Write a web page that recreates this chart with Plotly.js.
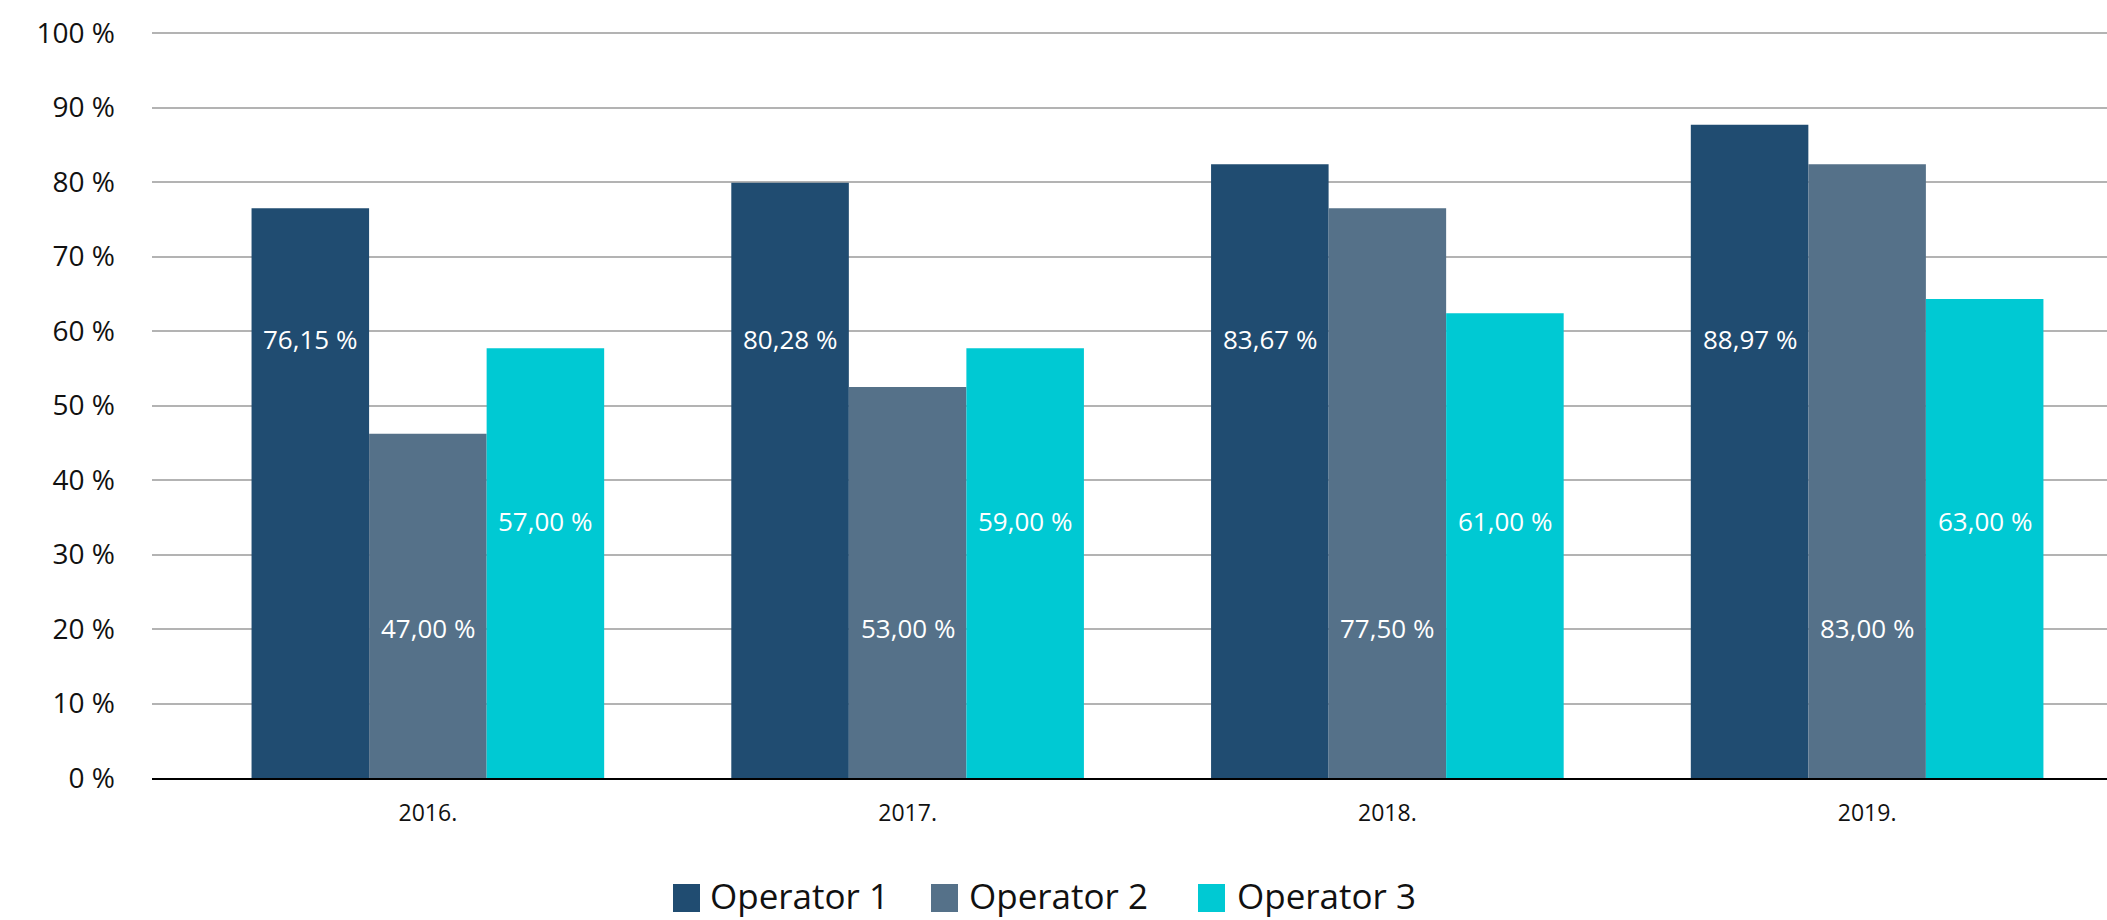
<!DOCTYPE html>
<html>
<head>
<meta charset="utf-8">
<script src="https://cdn.plot.ly/plotly-3.0.1.min.js"></script>
<style>html,body{margin:0;padding:0;background:#fff;}#chart{width:2107px;height:920px;}</style>
</head>
<body>
<div id="chart"></div>
<script>
// ---- data ----
const years = ['2016.', '2017.', '2018.', '2019.'];
const seriesNames = ['Operator 1', 'Operator 2', 'Operator 3'];
const op1Values = [76.5, 79.9, 82.4, 87.7];
const op2Values = [46.2, 52.5, 76.5, 82.4];
const op3Values = [57.7, 57.7, 62.4, 64.3];
const op1Labels = ['76,15 %', '80,28 %', '83,67 %', '88,97 %'];
const op2Labels = ['47,00 %', '53,00 %', '77,50 %', '83,00 %'];
const op3Labels = ['57,00 %', '59,00 %', '61,00 %', '63,00 %'];

// ---- styles ----
const colors = ['#204C71', '#557189', '#00C9D3'];
const FONT = '"Open Sans", "Noto Sans", sans-serif';
const W = 2107, H = 920;
const M = {l: 152, r: 0, t: 32, b: 142};
const plotW = W - M.l - M.r, plotH = H - M.t - M.b;
const bargap = 0.265;
const labelLevels = [59.0, 20.2, 34.5];

const values = [op1Values, op2Values, op3Values];
const labels = [op1Labels, op2Labels, op3Labels];

const traces = values.map((v, k) => ({
  type: 'bar',
  name: seriesNames[k],
  x: years,
  y: v,
  marker: {color: colors[k], line: {width: 0}},
  hoverinfo: 'none',
  showlegend: false
}));

const barUnit = (1 - bargap) / 3;
const annotations = [];
labels.forEach((arr, k) => {
  arr.forEach((t, i) => {
    annotations.push({
      x: i + (k - 1) * barUnit, y: labelLevels[k], xref: 'x', yref: 'y',
      text: t, showarrow: false, xanchor: 'center', yanchor: 'middle',
      font: {family: FONT, size: 26, color: '#ffffff'}
    });
  });
});

// custom legend
const px2x = px => (px - M.l) / plotW;
const px2y = py => (H - M.b - py) / plotH;
const legendItems = [
  {sq: 673, tx: 709},
  {sq: 931, tx: 968},
  {sq: 1198, tx: 1236}
];
const shapes = [];
legendItems.forEach((it, k) => {
  shapes.push({
    type: 'rect', xref: 'paper', yref: 'paper',
    x0: px2x(it.sq), x1: px2x(it.sq + 27), y0: px2y(912), y1: px2y(884),
    fillcolor: colors[k], line: {width: 0}
  });
  annotations.push({
    xref: 'paper', yref: 'paper', x: px2x(it.tx), y: px2y(895),
    xanchor: 'left', yanchor: 'middle', showarrow: false, borderpad: 0,
    text: seriesNames[k], font: {family: FONT, size: 35, color: '#111111'}
  });
});

const layout = {
  width: W, height: H,
  margin: M,
  paper_bgcolor: '#ffffff', plot_bgcolor: '#ffffff',
  barmode: 'group', bargap: bargap, bargroupgap: 0,
  showlegend: false,
  font: {family: FONT, color: '#111111'},
  xaxis: {
    type: 'category', range: [-0.575, 3.5],
    showgrid: false, zeroline: false,
    showline: true, linecolor: '#000000', linewidth: 2,
    ticks: '', tickfont: {family: FONT, size: 23, color: '#111111'},
    ticklabelstandoff: 13
  },
  yaxis: {
    range: [0, 100.15], dtick: 10, tick0: 0, ticksuffix: ' %',
    showgrid: true, gridcolor: '#b3b3b3', gridwidth: 2,
    zeroline: false, showline: false, ticks: '',
    tickfont: {family: FONT, size: 28, color: '#111111'},
    ticklabelstandoff: 36
  },
  annotations: annotations,
  shapes: shapes
};

Plotly.newPlot('chart', traces, layout, {staticPlot: true, displayModeBar: false});
</script>
</body>
</html>
